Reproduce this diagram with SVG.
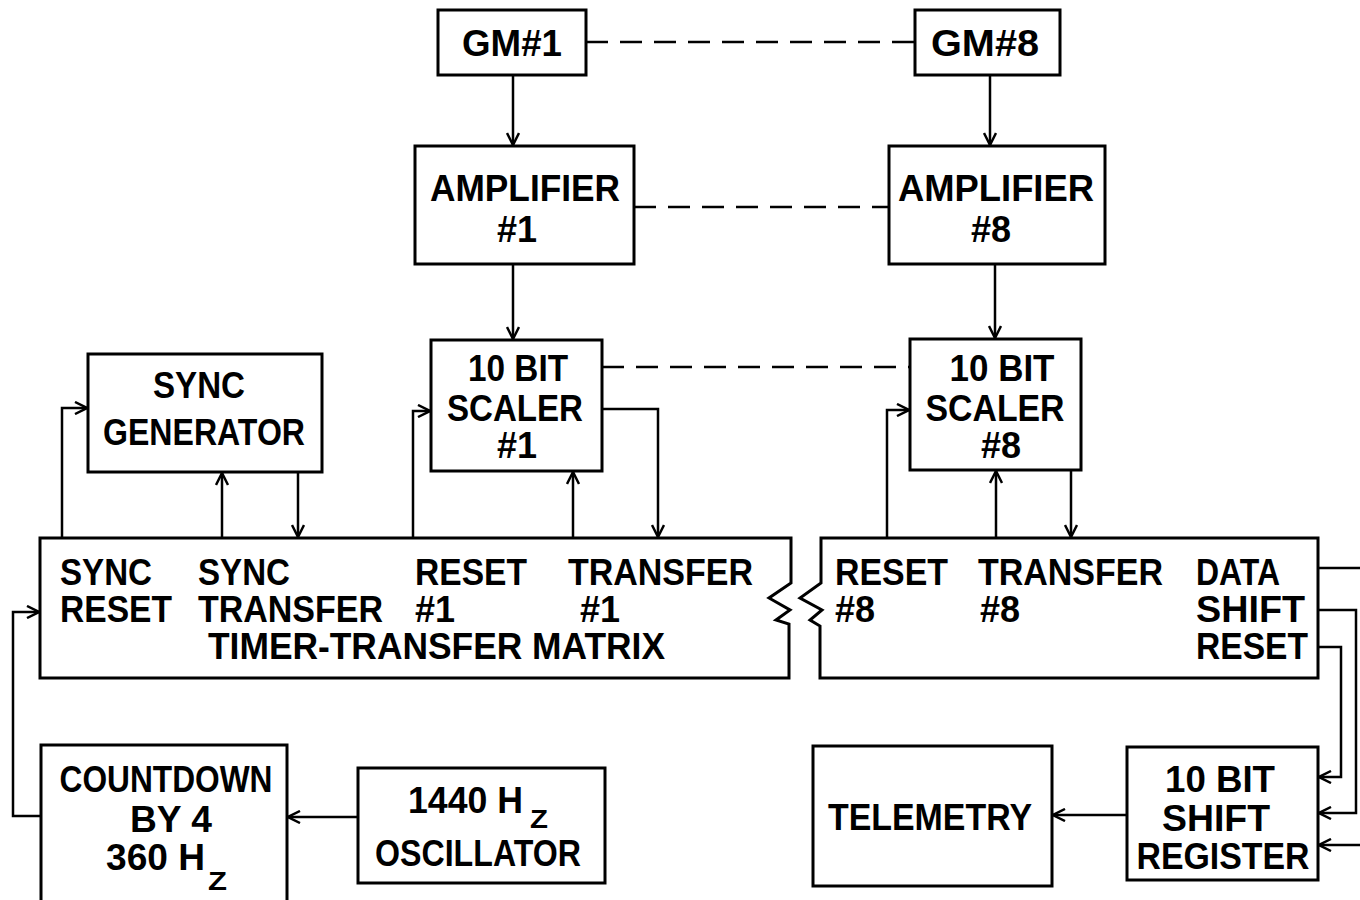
<svg xmlns="http://www.w3.org/2000/svg" width="1360" height="900" viewBox="0 0 1360 900">
<defs>
<style>
.b{fill:#fff;stroke:#000;stroke-width:3}
.t{font-family:"Liberation Sans",Arial,sans-serif;font-weight:bold;font-size:36px;fill:#000}
.s{font-family:"Liberation Sans",Arial,sans-serif;font-weight:bold;font-size:25px;fill:#000}
.c{fill:none;stroke:#000;stroke-width:2.5}
.d{fill:none;stroke:#000;stroke-width:2.5;stroke-dasharray:22,12}
</style>
<marker id="a" viewBox="0 0 14 14" refX="13" refY="7" markerWidth="14" markerHeight="14" markerUnits="userSpaceOnUse" orient="auto">
<path d="M1,1 L13,7 L1,13" fill="none" stroke="#000" stroke-width="2.5"/>
</marker>
</defs>
<rect width="1360" height="900" fill="#fff"/>
<g id="connectors">
<line class="d" x1="586" y1="42" x2="915" y2="42"/>
<line class="d" x1="634" y1="207" x2="889" y2="207"/>
<line class="d" x1="602" y1="367" x2="910" y2="367"/>
<line class="c" x1="513" y1="75" x2="513" y2="145" marker-end="url(#a)"/>
<line class="c" x1="990" y1="75" x2="990" y2="145" marker-end="url(#a)"/>
<line class="c" x1="513" y1="264" x2="513" y2="339" marker-end="url(#a)"/>
<line class="c" x1="995" y1="264" x2="995" y2="338" marker-end="url(#a)"/>
<polyline class="c" points="62,538 62,408 87,408" marker-end="url(#a)"/>
<line class="c" x1="222" y1="538" x2="222" y2="473" marker-end="url(#a)"/>
<line class="c" x1="298" y1="472" x2="298" y2="537" marker-end="url(#a)"/>
<polyline class="c" points="413,538 413,411 430,411" marker-end="url(#a)"/>
<line class="c" x1="573" y1="538" x2="573" y2="472" marker-end="url(#a)"/>
<polyline class="c" points="602,409 658,409 658,537" marker-end="url(#a)"/>
<polyline class="c" points="887,538 887,410 909,410" marker-end="url(#a)"/>
<line class="c" x1="996" y1="538" x2="996" y2="471" marker-end="url(#a)"/>
<line class="c" x1="1071" y1="470" x2="1071" y2="537" marker-end="url(#a)"/>
<line class="c" x1="1318" y1="568" x2="1360" y2="568"/>
<polyline class="c" points="1318,610 1356,610 1356,813 1319,813" marker-end="url(#a)"/>
<polyline class="c" points="1318,647 1341,647 1341,777 1319,777" marker-end="url(#a)"/>
<line class="c" x1="1360" y1="845" x2="1319" y2="845" marker-end="url(#a)"/>
<line class="c" x1="1127" y1="815" x2="1053" y2="815" marker-end="url(#a)"/>
<line class="c" x1="358" y1="817" x2="288" y2="817" marker-end="url(#a)"/>
<polyline class="c" points="41,816 13,816 13,612 39,612" marker-end="url(#a)"/>
</g>
<g id="gm1"><rect class="b" x="438" y="10" width="148" height="65"/><text class="t" x="512" y="56" text-anchor="middle" textLength="100" lengthAdjust="spacingAndGlyphs">GM#1</text></g>
<g id="gm8"><rect class="b" x="915" y="10" width="145" height="65"/><text class="t" x="985" y="56" text-anchor="middle" textLength="108" lengthAdjust="spacingAndGlyphs">GM#8</text></g>
<g id="amp1"><rect class="b" x="415" y="146" width="219" height="118"/><text class="t" x="525" y="201" text-anchor="middle" textLength="190" lengthAdjust="spacingAndGlyphs">AMPLIFIER</text><text class="t" x="517" y="242" text-anchor="middle">#1</text></g>
<g id="amp8"><rect class="b" x="889" y="146" width="216" height="118"/><text class="t" x="996" y="201" text-anchor="middle" textLength="196" lengthAdjust="spacingAndGlyphs">AMPLIFIER</text><text class="t" x="991" y="242" text-anchor="middle">#8</text></g>
<g id="scaler1"><rect class="b" x="431" y="340" width="171" height="131"/><text class="t" x="518" y="381" text-anchor="middle" textLength="100" lengthAdjust="spacingAndGlyphs">10 BIT</text><text class="t" x="515" y="421" text-anchor="middle" textLength="136" lengthAdjust="spacingAndGlyphs">SCALER</text><text class="t" x="517" y="458" text-anchor="middle">#1</text></g>
<g id="scaler8"><rect class="b" x="910" y="339" width="171" height="131"/><text class="t" x="1002" y="381" text-anchor="middle" textLength="105" lengthAdjust="spacingAndGlyphs">10 BIT</text><text class="t" x="995" y="421" text-anchor="middle" textLength="139" lengthAdjust="spacingAndGlyphs">SCALER</text><text class="t" x="1001" y="458" text-anchor="middle">#8</text></g>
<g id="syncgen"><rect class="b" x="88" y="354" width="234" height="118"/><text class="t" x="199" y="398" text-anchor="middle" textLength="92" lengthAdjust="spacingAndGlyphs">SYNC</text><text class="t" x="204" y="445" text-anchor="middle" textLength="202" lengthAdjust="spacingAndGlyphs">GENERATOR</text></g>
<g id="matrix1">
<path class="b" d="M40,538 H791 V583 L769,598 L790,610 L776,620 L789,624 V678 H40 Z"/>
<text class="t" x="60" y="585" textLength="92" lengthAdjust="spacingAndGlyphs">SYNC</text>
<text class="t" x="60" y="622" textLength="112" lengthAdjust="spacingAndGlyphs">RESET</text>
<text class="t" x="198" y="585" textLength="92" lengthAdjust="spacingAndGlyphs">SYNC</text>
<text class="t" x="198" y="622" textLength="185" lengthAdjust="spacingAndGlyphs">TRANSFER</text>
<text class="t" x="415" y="585" textLength="112" lengthAdjust="spacingAndGlyphs">RESET</text>
<text class="t" x="415" y="622">#1</text>
<text class="t" x="568" y="585" textLength="185" lengthAdjust="spacingAndGlyphs">TRANSFER</text>
<text class="t" x="580" y="622">#1</text>
<text class="t" x="208" y="659" textLength="457" lengthAdjust="spacingAndGlyphs">TIMER-TRANSFER MATRIX</text>
</g>
<g id="matrix2">
<path class="b" d="M821,538 H1318 V678 H820 V626 L810,620 L822,610 L800,598 L821,583 Z"/>
<text class="t" x="835" y="585" textLength="113" lengthAdjust="spacingAndGlyphs">RESET</text>
<text class="t" x="835" y="622">#8</text>
<text class="t" x="978" y="585" textLength="185" lengthAdjust="spacingAndGlyphs">TRANSFER</text>
<text class="t" x="980" y="622">#8</text>
<text class="t" x="1196" y="585" textLength="84" lengthAdjust="spacingAndGlyphs">DATA</text>
<text class="t" x="1196" y="622" textLength="109" lengthAdjust="spacingAndGlyphs">SHIFT</text>
<text class="t" x="1196" y="659" textLength="112" lengthAdjust="spacingAndGlyphs">RESET</text>
</g>
<g id="countdown"><rect class="b" x="41" y="745" width="246" height="170"/><text class="t" x="166" y="792" text-anchor="middle" textLength="213" lengthAdjust="spacingAndGlyphs">COUNTDOWN</text><text class="t" x="171" y="832" text-anchor="middle" textLength="82" lengthAdjust="spacingAndGlyphs">BY 4</text><text class="t" x="106" y="870" textLength="99" lengthAdjust="spacingAndGlyphs">360 H</text><text class="s" x="208" y="890" textLength="19" lengthAdjust="spacingAndGlyphs">Z</text></g>
<g id="oscillator"><rect class="b" x="358" y="768" width="247" height="115"/><text class="t" x="408" y="813" textLength="115" lengthAdjust="spacingAndGlyphs">1440 H</text><text class="s" x="530" y="828" textLength="18" lengthAdjust="spacingAndGlyphs">Z</text><text class="t" x="478" y="866" text-anchor="middle" textLength="206" lengthAdjust="spacingAndGlyphs">OSCILLATOR</text></g>
<g id="telemetry"><rect class="b" x="813" y="746" width="239" height="140"/><text class="t" x="930" y="830" text-anchor="middle" textLength="204" lengthAdjust="spacingAndGlyphs">TELEMETRY</text></g>
<g id="shiftreg"><rect class="b" x="1127" y="747" width="191" height="133"/><text class="t" x="1220" y="792" text-anchor="middle" textLength="110" lengthAdjust="spacingAndGlyphs">10 BIT</text><text class="t" x="1216" y="831" text-anchor="middle" textLength="108" lengthAdjust="spacingAndGlyphs">SHIFT</text><text class="t" x="1223" y="869" text-anchor="middle" textLength="173" lengthAdjust="spacingAndGlyphs">REGISTER</text></g>
</svg>
